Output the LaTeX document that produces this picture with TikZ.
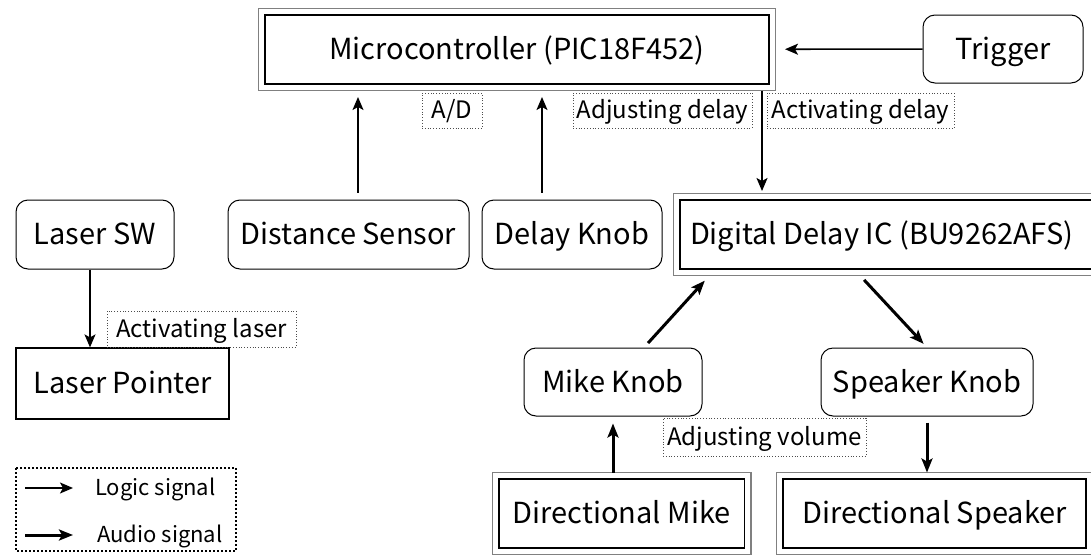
\documentclass[tikz,border=0pt]{standalone}
\usepackage{fontspec}
\setmainfont{Noto Sans CJK JP}
\usetikzlibrary{arrows.meta}

\begin{document}
\begin{tikzpicture}[x=1pt,y=-1pt,
    every node/.style={font=\fontsize{29}{32}\selectfont, inner sep=0pt, text height=21pt, text depth=1pt},
    rbox/.style={draw, line width=1pt, rounded corners=12pt},
    dbox/.style={draw, line width=1.1pt, outer sep=6.5pt,
        append after command={\pgfextra{\draw[black!50, line width=1.3pt]
            (\tikzlastnode.north west) rectangle (\tikzlastnode.south east);}}},
    pbox/.style={draw, line width=1.2pt},
    tag/.style={draw=black!70, dotted, line width=0.8pt, font=\fontsize{24}{26}\selectfont, text height=17.5pt},
    logic/.style={-{Stealth[length=13pt,width=11pt,inset=3pt]}, line width=1.6pt},
    audio/.style={-{Stealth[length=14pt,width=11pt,inset=3pt]}, line width=3pt}]
    \useasboundingbox (0,0) rectangle (1091,554);
    \clip (0,0) rectangle (1091,554);

    % blocks
    \node[dbox, minimum width=504pt, minimum height=69pt] (micro) at (517,49.5) {Microcontroller (PIC18F452)};
    \node[rbox, minimum width=160pt, minimum height=68pt] (trigger) at (1003,49) {Trigger};
    \node[rbox, minimum width=158pt, minimum height=69pt] (lasersw) at (95,234.5) {Laser SW};
    \node[rbox, minimum width=241pt, minimum height=69pt] (dist) at (348.5,234.5) {Distance Sensor};
    \node[rbox, minimum width=180pt, minimum height=69pt] (delayknob) at (572,234.5) {Delay Knob};
    \node[dbox, minimum width=430pt, minimum height=69pt] (delayic) at (895,234.5) {\makebox[430pt][l]{\hspace{10pt}Digital Delay IC (BU9262AFS)}};
    \node[pbox, minimum width=213pt, minimum height=71pt] (laserptr) at (122.5,383.5) {Laser Pointer};
    \node[rbox, minimum width=178pt, minimum height=68pt] (mikeknob) at (613,382) {Mike Knob};
    \node[rbox, minimum width=212pt, minimum height=68pt] (spkknob) at (927,382) {Speaker Knob};
    \node[dbox, minimum width=245.5pt, minimum height=69pt] (dirmike) at (621.75,513.5) {Directional Mike};
    \node[dbox, minimum width=303pt, minimum height=69pt] (dirspk) at (934.5,513.5) {Directional Speaker};

    % signal tags
    \node[tag, minimum width=60pt, minimum height=35pt] (tagad) at (452,110.5) {A/D};
    \node[tag, minimum width=179pt, minimum height=35pt] (tagadj) at (662.5,110.5) {Adjusting delay};
    \node[tag, minimum width=187pt, minimum height=35pt] (tagact) at (860.5,110.5) {Activating delay};
    \node[tag, minimum width=189pt, minimum height=36pt] (taglaser) at (201.5,329) {Activating laser};
    \node[tag, minimum width=203pt, minimum height=38pt] (tagvol) at (764.5,437) {Adjusting volume};

    % logic signals
    \coordinate (xd) at (762,0);
    \draw[logic, shorten >=9.5pt] (trigger) -- (micro);
    \draw[logic, shorten <=7pt, shorten >=6.5pt] (dist.north -| 358,0) -- (micro.south -| 358,0);
    \draw[logic, shorten <=7pt, shorten >=6.5pt] (delayknob.north -| 542,0) -- (micro.south -| 542,0);
    \draw[logic, shorten >=2.5pt] (micro.south -| xd) -- (delayic.north -| xd);
    \draw[logic] (lasersw.south -| 90,0) -- (laserptr.north -| 90,0);

    % audio signals
    \draw[audio, shorten <=6pt, shorten >=7pt] ([xshift=31pt]mikeknob.north) -- ([xshift=36pt]delayic.south west);
    \draw[audio, shorten <=6pt, shorten >=5pt] ([xshift=186.5pt]delayic.south west) -- (spkknob.north);
    \draw[audio, shorten >=7pt] (mikeknob.south |- dirmike.north) -- (mikeknob.south);
    \draw[audio, shorten <=6pt] (spkknob.south) -- (spkknob.south |- dirspk.north);

    % legend
    \draw[dotted, line width=2pt] (16,468) rectangle (236,551);
    \coordinate (lga) at (25,488);
    \coordinate (lgb) at (73,488);
    \coordinate (lgc) at (25,535);
    \coordinate (lgd) at (73,535);
    \draw[logic] (lga) -- (lgb);
    \draw[audio] (lgc) -- (lgd);
    \node[anchor=west, font=\fontsize{22}{24}\selectfont, text height=16pt] (lglogic) at (95,488) {Logic signal};
    \node[anchor=west, font=\fontsize{22}{24}\selectfont, text height=16pt] (lgaudio) at (97,535) {Audio signal};
\end{tikzpicture}
\end{document}
